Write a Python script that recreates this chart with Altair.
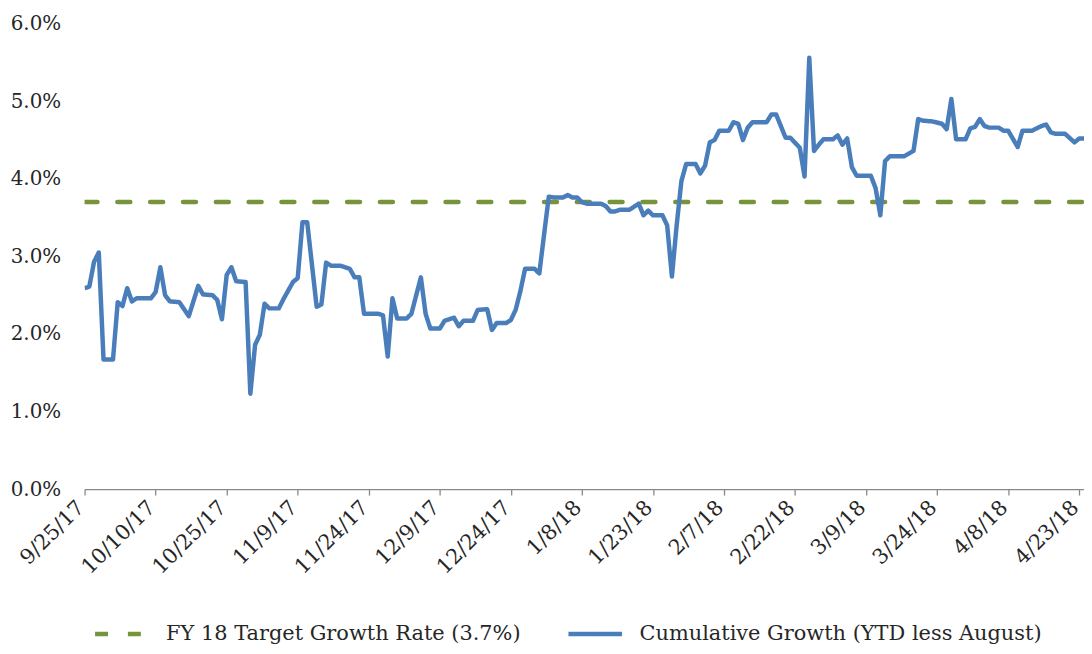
import altair as alt
import pandas as pd

# Cumulative growth series (percent)
DATES = [
    "2017-09-25", "2017-09-26", "2017-09-27", "2017-09-28", "2017-09-29", "2017-10-01",
    "2017-10-02", "2017-10-03", "2017-10-04", "2017-10-05", "2017-10-06", "2017-10-09",
    "2017-10-10", "2017-10-11", "2017-10-12", "2017-10-13", "2017-10-15", "2017-10-17",
    "2017-10-19", "2017-10-20", "2017-10-22", "2017-10-23", "2017-10-24", "2017-10-25",
    "2017-10-26", "2017-10-27", "2017-10-29", "2017-10-30", "2017-10-31", "2017-11-01",
    "2017-11-02", "2017-11-03", "2017-11-05", "2017-11-06", "2017-11-07", "2017-11-08",
    "2017-11-09", "2017-11-10", "2017-11-11", "2017-11-13", "2017-11-14", "2017-11-15",
    "2017-11-16", "2017-11-18", "2017-11-20", "2017-11-21", "2017-11-22", "2017-11-23",
    "2017-11-26", "2017-11-27", "2017-11-28", "2017-11-29", "2017-11-30", "2017-12-02",
    "2017-12-03", "2017-12-05", "2017-12-06", "2017-12-07", "2017-12-09", "2017-12-10",
    "2017-12-12", "2017-12-13", "2017-12-14", "2017-12-16", "2017-12-17", "2017-12-19",
    "2017-12-20", "2017-12-21", "2017-12-23", "2017-12-24", "2017-12-25", "2017-12-26",
    "2017-12-27", "2017-12-29", "2017-12-30", "2018-01-01", "2018-01-02", "2018-01-04",
    "2018-01-05", "2018-01-06", "2018-01-07", "2018-01-08", "2018-01-09", "2018-01-12",
    "2018-01-13", "2018-01-14", "2018-01-15", "2018-01-16", "2018-01-18", "2018-01-20",
    "2018-01-21", "2018-01-22", "2018-01-23", "2018-01-25", "2018-01-26", "2018-01-27",
    "2018-01-28", "2018-01-29", "2018-01-30", "2018-02-01", "2018-02-02", "2018-02-03",
    "2018-02-04", "2018-02-05", "2018-02-06", "2018-02-08", "2018-02-09", "2018-02-10",
    "2018-02-11", "2018-02-12", "2018-02-13", "2018-02-16", "2018-02-17", "2018-02-18",
    "2018-02-20", "2018-02-21", "2018-02-23", "2018-02-24", "2018-02-25", "2018-02-26",
    "2018-02-27", "2018-02-28", "2018-03-02", "2018-03-03", "2018-03-04", "2018-03-05",
    "2018-03-06", "2018-03-07", "2018-03-10", "2018-03-11", "2018-03-12", "2018-03-13",
    "2018-03-14", "2018-03-17", "2018-03-19", "2018-03-20", "2018-03-21", "2018-03-23",
    "2018-03-25", "2018-03-26", "2018-03-27", "2018-03-28", "2018-03-30", "2018-03-31",
    "2018-04-01", "2018-04-02", "2018-04-03", "2018-04-04", "2018-04-06", "2018-04-07",
    "2018-04-08", "2018-04-10", "2018-04-11", "2018-04-13", "2018-04-15", "2018-04-16",
    "2018-04-17", "2018-04-18", "2018-04-20", "2018-04-22", "2018-04-23", "2018-04-24",
]
GROWTH = [
    2.59, 2.61, 2.93, 3.05, 1.67, 1.67,
    2.41, 2.36, 2.59, 2.42, 2.46, 2.46,
    2.54, 2.86, 2.50, 2.42, 2.41, 2.23,
    2.62, 2.51, 2.50, 2.44, 2.19, 2.76,
    2.86, 2.68, 2.67, 1.23, 1.86, 1.99,
    2.39, 2.33, 2.33, 2.45, 2.56, 2.67,
    2.72, 3.44, 3.44, 2.35, 2.38, 2.92,
    2.88, 2.88, 2.84, 2.73, 2.73, 2.26,
    2.26, 2.24, 1.71, 2.46, 2.20, 2.20,
    2.26, 2.73, 2.26, 2.07, 2.07, 2.17,
    2.21, 2.10, 2.17, 2.17, 2.31, 2.32,
    2.05, 2.14, 2.14, 2.18, 2.31, 2.55,
    2.84, 2.84, 2.78, 3.77, 3.76, 3.76,
    3.79, 3.76, 3.76, 3.70, 3.68, 3.68,
    3.65, 3.58, 3.58, 3.60, 3.60, 3.68,
    3.53, 3.59, 3.53, 3.53, 3.40, 2.74,
    3.40, 3.97, 4.19, 4.19, 4.07, 4.17,
    4.47, 4.50, 4.62, 4.62, 4.73, 4.71,
    4.50, 4.66, 4.73, 4.73, 4.83, 4.83,
    4.53, 4.53, 4.40, 4.03, 5.56, 4.36,
    4.44, 4.51, 4.51, 4.56, 4.44, 4.52,
    4.15, 4.04, 4.04, 3.88, 3.53, 4.23,
    4.29, 4.29, 4.36, 4.77, 4.75, 4.74,
    4.71, 4.64, 5.03, 4.51, 4.51, 4.65,
    4.67, 4.77, 4.68, 4.66, 4.66, 4.62,
    4.62, 4.41, 4.62, 4.62, 4.68, 4.70,
    4.60, 4.58, 4.58, 4.47, 4.52, 4.52,
]

TARGET_DATES = ["2017-09-25", "2018-04-24"]
TARGET_VALUES = [3.7, 3.7]

SERIES = ["FY 18 Target Growth Rate (3.7%)", "Cumulative Growth (YTD less August)"]
COLORS = ["#77933C", "#4A7EBB"]
DASHES = [[13, 20], [1, 0]]

TICK_LABEL_DATES = [
    (2017, 9, 25), (2017, 10, 10), (2017, 10, 25), (2017, 11, 9), (2017, 11, 24),
    (2017, 12, 9), (2017, 12, 24), (2018, 1, 8), (2018, 1, 23), (2018, 2, 7),
    (2018, 2, 22), (2018, 3, 9), (2018, 3, 24), (2018, 4, 8), (2018, 4, 23),
]
Y_TICKS = [0, 0.01, 0.02, 0.03, 0.04, 0.05, 0.06]

FONT = "DejaVu Serif"
TEXT_COLOR = "#262626"

growth_df = pd.DataFrame({"date": DATES, "value": [v / 100 for v in GROWTH], "series": SERIES[1]})
target_df = pd.DataFrame({"date": TARGET_DATES, "value": [v / 100 for v in TARGET_VALUES], "series": SERIES[0]})

dt = lambda y, m, d: alt.DateTime(year=y, month=m, date=d, utc=True)

x_enc = alt.X(
    "date:T",
    scale=alt.Scale(type="utc", domain=[dt(2017, 9, 25), dt(2018, 4, 24)]),
    axis=alt.Axis(
        values=[dt(*t) for t in TICK_LABEL_DATES],
        format="%-m/%-d/%y",
        labelAngle=-45,
        labelAlign="right",
        labelBaseline="middle",
        labelPadding=9,
        labelOffset=-4,
        labelFont=FONT,
        labelFontSize=21,
        labelColor=TEXT_COLOR,
        domainColor="#898989",
        domainWidth=1.3,
        tickColor="#898989",
        tickSize=6,
        tickWidth=1.3,
        grid=False,
        title=None,
        labelOverlap=False,
        labelFlush=False,
    ),
)
y_enc = alt.Y(
    "value:Q",
    scale=alt.Scale(domain=[0, 0.06], nice=False),
    axis=alt.Axis(
        values=Y_TICKS,
        format=".1%",
        domain=False,
        ticks=False,
        grid=False,
        labelPadding=24,
        labelFont=FONT,
        labelFontSize=20,
        labelColor=TEXT_COLOR,
        title=None,
    ),
)
legend_kw = dict(
    title=None,
    orient="none",
    legendX=8,
    legendY=584,
    direction="horizontal",
    symbolType="stroke",
    symbolSize=2900,
    symbolStrokeWidth=4.5,
    labelFont=FONT,
    labelFontSize=21,
    labelColor=TEXT_COLOR,
    labelOffset=15,
    columnPadding=38,
    labelLimit=600,
)
color_enc = alt.Color(
    "series:N",
    scale=alt.Scale(domain=SERIES, range=COLORS),
    legend=alt.Legend(**legend_kw),
)
dash_enc = alt.StrokeDash(
    "series:N",
    scale=alt.Scale(domain=SERIES, range=DASHES),
    legend=alt.Legend(**legend_kw),
)

target = alt.Chart(target_df).mark_line(strokeWidth=4.5, strokeCap="round", clip=True).encode(
    x=x_enc, y=y_enc, color=color_enc, strokeDash=dash_enc
)
growth = alt.Chart(growth_df).mark_line(strokeWidth=4.5, strokeJoin="round", clip=True).encode(
    x=x_enc, y=y_enc, color=color_enc, strokeDash=dash_enc
)

chart = (
    alt.layer(target, growth)
    .properties(
        width=1005,
        height=468,
        autosize=alt.AutoSizeParams(type="none"),
        padding={"left": 77, "top": 14, "right": 0, "bottom": 156},
        background="white",
    )
    .configure_view(stroke=None)
)

chart.save("out.html", embed_options={"renderer": "svg", "actions": False})
